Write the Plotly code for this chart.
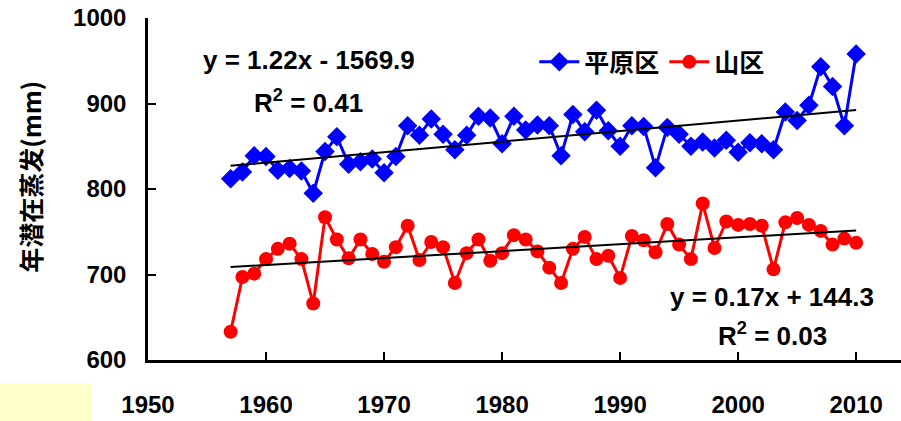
import numpy as np
import plotly.graph_objects as go

years = list(range(1957, 2011))
plain = [812, 820, 839, 838, 822, 824, 821, 795, 844, 861,
         829, 832, 835, 819, 838, 874, 863, 882, 864, 846,
         863, 885, 883, 853, 885, 869, 875, 874, 839, 887,
         867, 892, 868, 850, 874, 873, 825, 872, 864, 850,
         855, 848, 857, 843, 854, 853, 846, 890, 880, 898,
         943, 920, 874, 958]
mountain = [633, 697, 701, 718, 730, 736, 718, 666, 767, 741,
            719, 741, 724, 715, 732, 757, 717, 738, 732, 690,
            725, 741, 716, 725, 746, 741, 727, 708, 690, 730,
            744, 718, 722, 696, 745, 740, 726, 759, 735, 718,
            783, 731, 762, 758, 759, 757, 706, 761, 766, 758,
            751, 735, 742, 737]
series_names = ["平原区", "山区"]
x_ticks = [1950, 1960, 1970, 1980, 1990, 2000, 2010]
y_ticks = [600, 700, 800, 900, 1000]

FONT = "Arial, Liberation Sans, Noto Sans CJK SC, sans-serif"
CJK = "Noto Sans CJK SC, Arial, sans-serif"

fig = go.Figure()
fig.add_trace(go.Scatter(x=years, y=plain, mode="lines+markers", name=series_names[0],
                         line=dict(color="#0000FF", width=3),
                         marker=dict(symbol="diamond", size=15, color="#0000FF")))
fig.add_trace(go.Scatter(x=years, y=mountain, mode="lines+markers", name=series_names[1],
                         line=dict(color="#FF0000", width=3),
                         marker=dict(symbol="circle", size=14, color="#FF0000")))

xa = np.array(years, dtype=float)
for vals in (plain, mountain):
    k, b = np.polyfit(xa, np.array(vals, dtype=float), 1)
    xe = np.array([years[0], years[-1]], dtype=float)
    fig.add_trace(go.Scatter(x=xe, y=k * xe + b, mode="lines", showlegend=False,
                             line=dict(color="black", width=2), hoverinfo="skip"))

ann_font = dict(family=FONT, size=26, color="black", weight="bold")
annotations = [
    dict(x=1963.6, y=951, text="y = 1.22x - 1569.9"),
    dict(x=1963.6, y=902, text="R<sup>2</sup> = 0.41"),
    dict(x=2002.9, y=674, text="y = 0.17x + 144.3"),
    dict(x=2002.9, y=630, text="R<sup>2</sup> = 0.03"),
]
for a in annotations:
    fig.add_annotation(x=a["x"], y=a["y"], text=a["text"], showarrow=False,
                       xref="x", yref="y", xanchor="center", yanchor="middle",
                       font=ann_font)

fig.add_annotation(x=-0.157, y=0.535, xref="paper", yref="paper", text="年潜在蒸发(mm)",
                   textangle=-90, showarrow=False, xanchor="center", yanchor="middle",
                   font=dict(family=CJK, size=25, color="black", weight="bold"))

fig.add_shape(type="rect", xref="paper", yref="paper",
              x0=-148 / 753, x1=(92 - 148) / 753, y0=-61 / 342, y1=(360 - 383) / 342,
              fillcolor="#FFFFCC", line=dict(width=0), layer="below")

fig.update_layout(
    width=901, height=421,
    margin=dict(l=148, r=0, t=18, b=61),
    paper_bgcolor="white", plot_bgcolor="white",
    showlegend=True,
    legend=dict(orientation="h", x=0.513, y=0.871, xanchor="left", yanchor="middle",
                font=dict(family=CJK, size=25, color="black", weight="bold"),
                bgcolor="rgba(0,0,0,0)", itemwidth=40, tracegroupgap=0),
)
fig.update_xaxes(range=[1950, 2013.8], tickvals=x_ticks, ticks="inside", ticklen=8,
                 tickwidth=2, tickcolor="black", showline=True, linewidth=2.5,
                 linecolor="black", showgrid=False, zeroline=False,
                 ticklabelstandoff=21,
                 tickfont=dict(family=FONT, size=24, color="black", weight="bold"))
fig.update_yaxes(range=[600, 1000], tickvals=y_ticks, ticks="inside", ticklen=8,
                 tickwidth=2, tickcolor="black", showline=True, linewidth=2.5,
                 linecolor="black", showgrid=False, zeroline=False,
                 ticklabelstandoff=14,
                 tickfont=dict(family=FONT, size=24, color="black", weight="bold"))

fig.write_html("out.html", config={"displayModeBar": False},
               post_script="document.body.style.margin='0';document.body.style.overflow='hidden';")
